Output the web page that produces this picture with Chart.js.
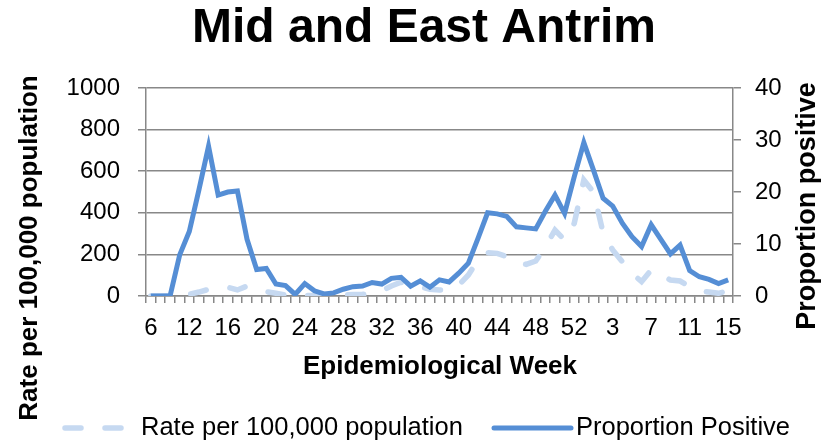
<!DOCTYPE html>
<html>
<head>
<meta charset="utf-8">
<script src="https://cdn.jsdelivr.net/npm/chart.js@4.4.1/dist/chart.umd.min.js"></script>
<style>
  html, body { margin: 0; padding: 0; background: #fff; }
  #wrap { width: 823px; height: 443px; position: relative; }
</style>
</head>
<body>
<div id="wrap"><canvas id="c" width="823" height="443"></canvas></div>
<script>
// epidemiological weeks (2020 wk 6 .. 53, then 2021 wk 1 .. 15)
const weeks = ['6','9','10','11','12','13','14','15','16','17','18','19','20','21','22','23','24','25','26','27',
  '28','29','30','31','32','33','34','35','36','37','38','39','40','41','42','43','44','45','46','47',
  '48','49','50','51','52','53','1','2','3','4','5','6','7','8','9','10','11','12','13','14','15'];

// rate per 100,000 population (left axis)
const ratePer100k = [0,0,2,4,8,19,32,38,42,29,48,35,21,13,5,3,2,2,3,3,
  6,7,8,12,25,48,66,50,45,32,29,28,53,101,173,208,205,189,157,152,
  168,237,317,269,349,558,500,305,221,165,109,69,125,101,77,72,45,26,19,13,26];

// proportion positive, % (right axis)
const propPositive = [0,0,0,7.9,12.4,20.4,28.8,19.4,20.0,20.2,10.9,5.1,5.3,2.3,2.0,0.3,2.4,1.0,0.4,0.6,
  1.3,1.8,1.9,2.6,2.3,3.4,3.6,1.9,2.9,1.7,3.1,2.7,4.4,6.3,11.1,16.0,15.8,15.3,13.3,13.1,
  12.9,16.3,19.4,15.9,22.9,29.5,24.2,18.8,17.3,14.0,11.4,9.5,13.7,10.9,8.1,9.8,4.9,3.7,3.2,2.4,3.1];

const leftTicks = [0,200,400,600,800,1000];
const rightTicks = [0,10,20,30,40];

const FONT = '"Liberation Sans", Arial, sans-serif';
const GRID = '#888888';
const DARK = '#558ed5';
const LIGHT = '#c6d9f1';

// titles + legend drawn on top
const textPlugin = {
  id: 'texts',
  afterDraw(chart) {
    const ctx = chart.ctx;
    ctx.save();
    ctx.fillStyle = '#000';
    ctx.textAlign = 'center';
    ctx.textBaseline = 'middle';
    ctx.font = 'bold 48px ' + FONT;
    ctx.fillText('Mid and East Antrim', 424, 29);
    ctx.font = 'bold 26px ' + FONT;
    ctx.fillText('Epidemiological Week', 440, 367);

    ctx.save();
    ctx.translate(30, 248);
    ctx.rotate(-Math.PI / 2);
    ctx.fillText('Rate per 100,000 population', 0, 0);
    ctx.restore();

    ctx.save();
    ctx.font = 'bold 27px ' + FONT;
    ctx.translate(808, 206);
    ctx.rotate(-Math.PI / 2);
    ctx.fillText('Proportion positive', 0, 0);
    ctx.restore();

    // legend
    const ly = 428;
    ctx.lineCap = 'round';
    ctx.lineWidth = 5.5;
    ctx.strokeStyle = LIGHT;
    ctx.setLineDash([16, 24]);
    ctx.beginPath(); ctx.moveTo(65, ly); ctx.lineTo(125, ly); ctx.stroke();
    ctx.setLineDash([]);
    ctx.strokeStyle = DARK;
    ctx.lineWidth = 5;
    ctx.beginPath(); ctx.moveTo(494, ly); ctx.lineTo(571, ly); ctx.stroke();
    ctx.font = '25.5px ' + FONT;
    ctx.textAlign = 'left';
    ctx.fillText('Rate per 100,000 population', 141, ly);
    ctx.fillText('Proportion Positive', 576, ly);
    ctx.restore();
  }
};

new Chart(document.getElementById('c'), {
  type: 'line',
  data: {
    labels: weeks,
    datasets: [
      {
        label: 'Rate per 100,000 population',
        data: ratePer100k,
        yAxisID: 'y',
        borderColor: LIGHT,
        borderWidth: 5.5,
        borderDash: [16, 24],
        borderCapStyle: 'round',
        pointRadius: 0,
        tension: 0,
        order: 2
      },
      {
        label: 'Proportion Positive',
        data: propPositive,
        yAxisID: 'y1',
        borderColor: DARK,
        borderWidth: 5,
        borderJoinStyle: 'miter',
        pointRadius: 0,
        tension: 0,
        order: 1
      }
    ]
  },
  options: {
    responsive: false,
    animation: false,
    devicePixelRatio: 1,
    layout: { padding: { top: 88, left: 0, right: 0, bottom: 0 } },
    plugins: { legend: { display: false }, title: { display: false }, tooltip: { enabled: false } },
    scales: {
      x: {
        offset: true,
        afterFit(s) { s.height = 147; },
        grid: { offset: true, drawOnChartArea: false, color: GRID, lineWidth: 1.5, tickLength: 7 },
        border: { color: GRID, width: 1.5 },
        ticks: {
          autoSkip: false, maxRotation: 0, padding: 11, color: '#000',
          font: { family: FONT, size: 24 },
          callback(v, i) { return i % 4 === 0 ? weeks[i] : ''; }
        }
      },
      y: {
        position: 'left',
        min: 0, max: 1000,
        afterFit(s) { s.width = 146; },
        afterBuildTicks(s) { s.ticks = leftTicks.map(v => ({ value: v })); },
        grid: { color: GRID, lineWidth: 1.5, tickLength: 8 },
        border: { color: GRID, width: 1.5 },
        ticks: { padding: 18, color: '#000', font: { family: FONT, size: 24 }, callback: v => String(v) }
      },
      y1: {
        position: 'right',
        min: 0, max: 40,
        afterFit(s) { s.width = 90; },
        afterBuildTicks(s) { s.ticks = rightTicks.map(v => ({ value: v })); },
        grid: { drawOnChartArea: false, color: GRID, lineWidth: 1.5, tickLength: 8 },
        border: { color: GRID, width: 1.5 },
        ticks: { padding: 14, color: '#000', font: { family: FONT, size: 24 }, callback: v => String(v) }
      }
    }
  },
  plugins: [textPlugin]
});
</script>
</body>
</html>
